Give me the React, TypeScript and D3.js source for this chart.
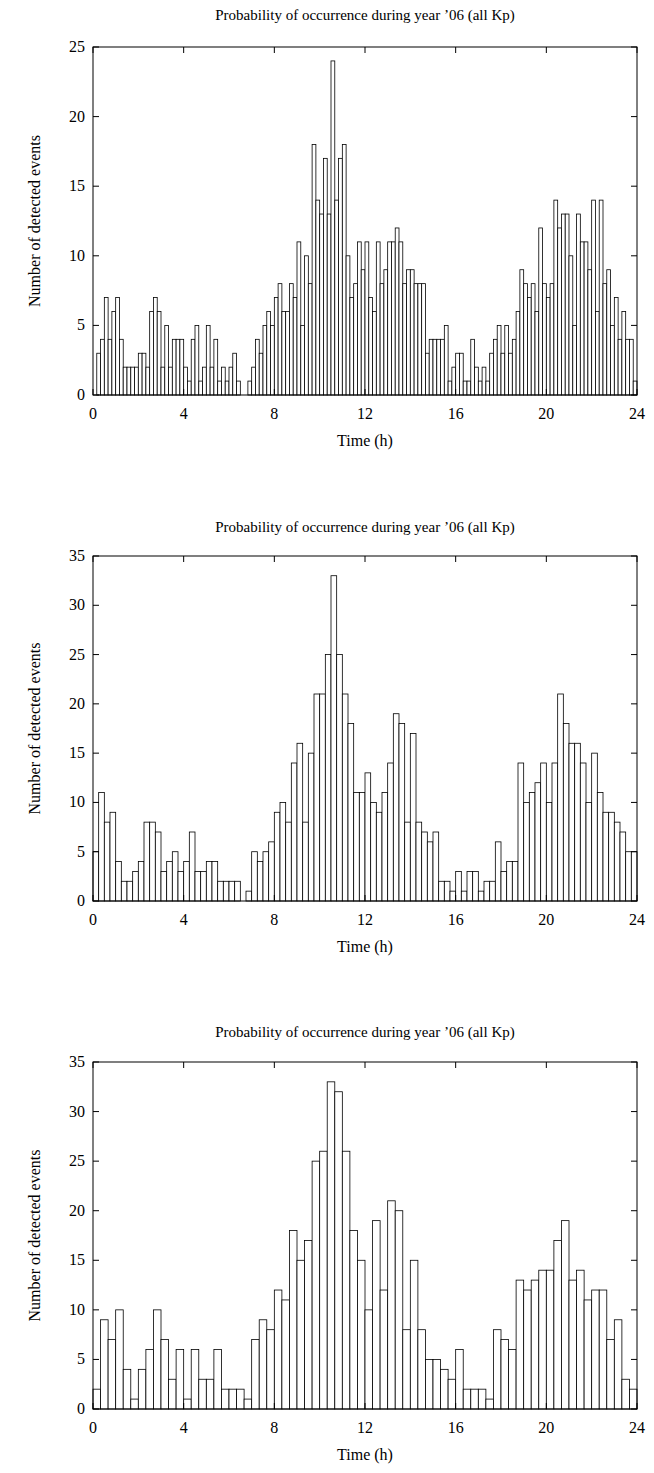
import React from "react";
import * as d3 from "d3";

const hourTicks = [0, 4, 8, 12, 16, 20, 24];
const titleText = "Probability of occurrence during year \u201906 (all Kp)";

// 10-minute bins (144)
const counts10 = [
  0, 3, 4, 7, 4, 6, 7, 4, 2, 2, 2, 2, 3, 3, 2, 6, 7, 6, 2, 5, 2, 4, 4, 4,
  2, 1, 4, 5, 1, 2, 5, 2, 4, 1, 2, 1, 2, 3, 1, 0, 0, 1, 2, 4, 3, 5, 6, 5,
  7, 8, 6, 6, 8, 7, 11, 5, 10, 8, 18, 14, 13, 17, 13, 24, 14, 17, 18, 10, 7, 8,
  11, 9, 11, 7, 6, 11, 8, 9, 11, 11, 12, 11, 8, 9, 9, 8, 8, 8, 3, 4, 4, 4,
  4, 5, 1, 2, 3, 3, 1, 1, 4, 2, 1, 2, 1, 3, 4, 5, 3, 5, 3, 4, 6, 9,
  8, 7, 8, 6, 12, 8, 7, 8, 14, 12, 13, 13, 10, 5, 13, 11, 11, 9, 14, 6, 14, 8,
  9, 5, 7, 4, 6, 4, 4, 1,
];

// 15-minute bins (96)
const counts15 = [
  5, 11, 8, 9, 4, 2, 2, 3, 4, 8, 8, 7, 3, 4, 5, 3, 4, 7, 3, 3, 4, 4, 2, 2, 2, 2,
  0, 1, 5, 4, 5, 6, 9, 10, 8, 14, 16, 8, 15, 21, 21, 25, 33, 25, 21, 18,
  11, 11, 13, 10, 9, 11, 14, 19, 18, 8, 17, 8, 7, 6, 7, 2, 2, 1, 3, 1,
  3, 3, 1, 2, 2, 6, 3, 4, 4, 14, 10, 11, 12, 14, 10, 14, 21, 18, 16, 16,
  14, 10, 15, 11, 9, 9, 8, 7, 5, 5,
];

// 20-minute bins (72)
const counts20 = [
  2, 9, 7, 10, 4, 1, 4, 6, 10, 7, 3, 6, 1, 6, 3, 3, 6, 2, 2, 2, 1, 7, 9, 8,
  12, 11, 18, 15, 17, 25, 26, 33, 32, 26, 18, 15, 10, 19, 12, 21, 20, 8, 15, 8,
  5, 5, 4, 3, 6, 2, 2, 2, 1, 8, 7, 6, 13, 12, 13, 14, 14, 17, 19, 13, 14, 11,
  12, 12, 7, 9, 3, 2,
];

const W = 654;
const left = 93;
const right = 637;
const font = "'Liberation Serif', 'Times New Roman', serif";

const Panel = ({ counts, yMax, top, bottom, titleY }: { counts: number[]; yMax: number; top: number; bottom: number; titleY: number }) => {
  const x = d3.scaleLinear().domain([0, 24]).range([left, right]);
  const y = d3.scaleLinear().domain([0, yMax]).range([bottom, top]);
  const bw = 24 / counts.length;
  const yTicks = d3.range(0, yMax + 1, 5);
  const tl = 6;
  return (
    <g>
      <text x={(left + right) / 2} y={titleY} textAnchor="middle" fontSize={15}>{titleText}</text>
      {counts.map((c, i) => (
        <rect key={i} x={x(i * bw)} y={y(c)} width={x(bw) - x(0)} height={y(0) - y(c)}
          fill="white" stroke="black" strokeWidth={0.8} />
      ))}
      <rect x={left} y={top} width={right - left} height={bottom - top} fill="none" stroke="black" strokeWidth={1} />
      {yTicks.map(t => (
        <g key={t}>
          <line x1={left} x2={left + tl} y1={y(t)} y2={y(t)} stroke="black" />
          <line x1={right} x2={right - tl} y1={y(t)} y2={y(t)} stroke="black" />
          <text x={left - 8} y={y(t) + 5} textAnchor="end" fontSize={16}>{t}</text>
        </g>
      ))}
      {hourTicks.map(t => (
        <g key={t}>
          <line x1={x(t)} x2={x(t)} y1={bottom} y2={bottom - tl} stroke="black" />
          <line x1={x(t)} x2={x(t)} y1={top} y2={top + tl} stroke="black" />
          <text x={x(t)} y={bottom + 24} textAnchor="middle" fontSize={16}>{t}</text>
        </g>
      ))}
      <text x={(left + right) / 2} y={bottom + 51} textAnchor="middle" fontSize={16}>Time (h)</text>
      <text transform={`translate(40,${(top + bottom) / 2}) rotate(-90)`} textAnchor="middle" fontSize={16}>Number of detected events</text>
    </g>
  );
};

export default function App() {
  return (
    <svg width={W} height={1473} style={{ position: "absolute", left: 0, top: 0, background: "white" }} fontFamily={font}>
      <Panel counts={counts10} yMax={25} top={47} bottom={395} titleY={20} />
      <Panel counts={counts15} yMax={35} top={556} bottom={901} titleY={532} />
      <Panel counts={counts20} yMax={35} top={1062} bottom={1409} titleY={1037} />
    </svg>
  );
}
